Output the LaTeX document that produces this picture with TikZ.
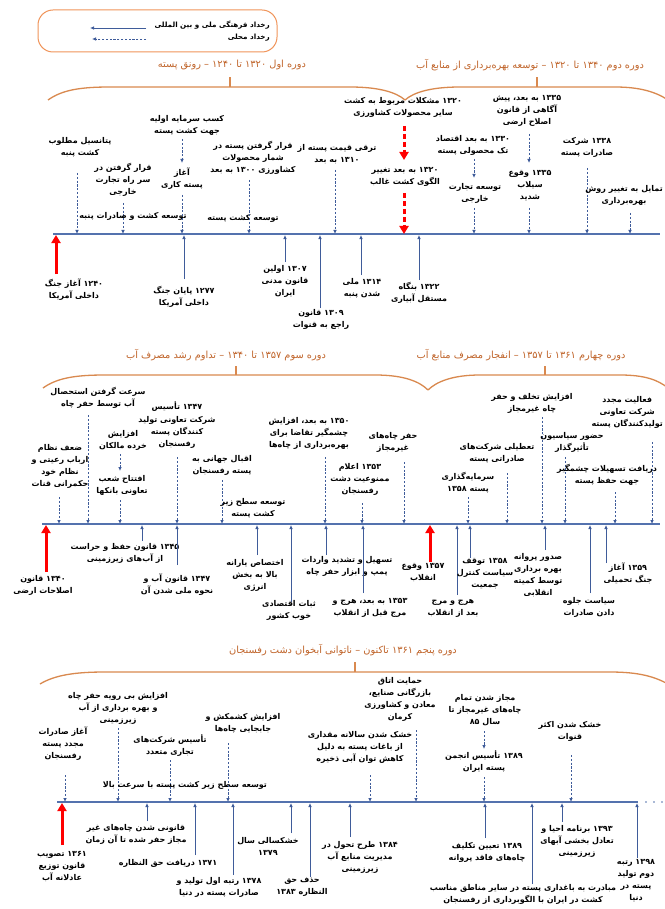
\documentclass[tikz,border=0pt]{standalone}
\usepackage{fontspec}
\usetikzlibrary{arrows.meta}
\TeXXeTstate=1
\newfontfamily\fafont[Script=Arabic, BoldFont={DejaVu Sans Bold}]{DejaVu Sans}
% one right-to-left line, and a number kept left-to-right inside it
\newcommand\fl[1]{\beginR#1\endR}
\newcommand\yr[1]{\beginL#1\endL}
\definecolor{linec}{HTML}{5472AE}
\definecolor{arrc}{HTML}{3F5C9A}
\definecolor{hdrc}{HTML}{C0642A}
\definecolor{bracec}{HTML}{D9894F}
\definecolor{legc}{HTML}{F0945A}
% an event connector: style, name, x, start y, end y
\newcommand\evline[5]{\coordinate (#2s) at (#3,#4);\coordinate (#2e) at (#3,#5);\draw[#1] (#2s) -- (#2e);}
\tikzset{
  lbl/.style={font=\fafont\bfseries\fontsize{8}{12}\selectfont, align=center, inner sep=0pt},
  leg/.style={font=\fafont\bfseries\fontsize{7.2}{11}\selectfont, inner sep=0pt},
  hdr/.style={font=\fafont\fontsize{9.8}{12}\selectfont, text=hdrc, inner sep=0pt},
  tline/.style={draw=linec, line width=2pt},
  natarr/.style={draw=arrc, line width=0.9pt, -{Latex[length=4pt,width=3.6pt]}},
  locarr/.style={natarr, dash pattern=on 2.2pt off 1.6pt},
  redarr/.style={draw=red, line width=3pt, -{Triangle[length=8pt,width=9pt]}},
  reddash/.style={redarr, dash pattern=on 5pt off 3pt},
  brace/.style={draw=bracec, line width=1.3pt},
}
\begin{document}
\begin{tikzpicture}[x=1pt, y={(0pt,-1pt)}]
\fill[white] (0,0) rectangle (664,909);
\useasboundingbox (0,0) rectangle (664,909);

% ---------------- legend ----------------
\draw[draw=legc, line width=1pt, rounded corners=15pt] (38,10) rectangle (277,52);
\node[leg, anchor=east] (lg1) at (270,25) {\fl{رخداد فرهنگی ملی و بین المللی}};
\node[leg, anchor=east] (lg2) at (270,38) {\fl{رخداد محلی}};
\coordinate (lg1a) at (146,28); \coordinate (lg1b) at (90,28);
\coordinate (lg2a) at (146,39); \coordinate (lg2b) at (92,39);
\draw[natarr] (lg1a) -- (lg1b);
\draw[locarr] (lg2a) -- (lg2b);

% ================= period 1 and 2 =================
\node[hdr] (h1a) at (232,65) {\fl{دوره اول \yr{۱۳۲۰} تا \yr{۱۲۴۰} – رونق پسته}};
\node[hdr] (h1b) at (530,65) {\fl{دوره دوم \yr{۱۳۴۰} تا \yr{۱۳۲۰} – توسعه بهره‌برداری از منابع آب}};
\draw[brace] (48,100) .. controls (62,90) and (80,87) .. (110,87) -- (350,87) .. controls (378,87) and (396,92) .. (405,100);
\draw[brace] (405,100) .. controls (414,92) and (432,87) .. (460,87) -- (615,87) .. controls (640,87) and (656,92) .. (668,100);
\draw[brace] (230,87) -- (230,77);
\draw[brace] (537,87) -- (537,77);

\coordinate (tl1s) at (53,234); \coordinate (tl1e) at (660,234);
\draw[tline] (tl1s) -- (tl1e);

% events above the line
\node[lbl] (u1) at (80,147.5) {\fl{پتانسیل مطلوب}\\\fl{کشت پنبه}};
\evline{locarr}{cu1}{77}{173}{234}
\node[lbl] (u2) at (123,180) {\fl{قرار گرفتن در}\\\fl{سر راه تجارت}\\\fl{خارجی}};
\evline{locarr}{cu2}{123}{203}{234}
\node[lbl] (p1) at (133,216) {\fl{توسعه کشت و صادرات پنبه}};
\node[lbl] (u3a) at (187,125) {\fl{کسب سرمایه اولیه}\\\fl{جهت کشت پسته}};
\evline{locarr}{cu3a}{182}{139}{163}
\node[lbl] (u3b) at (182,178.5) {\fl{آغاز}\\\fl{پسته کاری}};
\evline{locarr}{cu3b}{182}{195}{234}
\node[lbl] (p2) at (243,218) {\fl{توسعه کشت پسته}};
\node[lbl] (u4) at (253,158) {\fl{قرار گرفتن پسته در}\\\fl{شمار محصولات}\\\fl{کشاورزی \yr{۱۳۰۰} به بعد}};
\evline{locarr}{cu4}{249}{180}{234}
\node[lbl] (u5) at (337,154) {\fl{ترقی قیمت پسته از}\\\fl{\yr{۱۳۱۰} به بعد}};
\evline{locarr}{cu5}{335}{170}{234}
\node[lbl] (u6a) at (403,107) {\fl{\yr{۱۳۲۰} مشکلات مربوط به کشت}\\\fl{سایر محصولات کشاورزی}};
\evline{reddash}{cu6a}{404}{126}{160}
\node[lbl] (u6b) at (405,177) {\fl{\yr{۱۳۲۰} به بعد تغییر}\\\fl{الگوی کشت غالب}};
\evline{reddash}{cu6b}{404}{193}{234}
\node[lbl] (u7a) at (473,145) {\fl{\yr{۱۳۳۰} به بعد اقتصاد}\\\fl{تک محصولی پسته}};
\evline{locarr}{cu7a}{474}{159}{178}
\node[lbl] (u7b) at (475,193) {\fl{توسعه تجارت}\\\fl{خارجی}};
\evline{locarr}{cu7b}{474}{208}{234}
\node[lbl] (u8a) at (527,111) {\fl{\yr{۱۳۳۵} به بعد، پیش}\\\fl{آگاهی از قانون}\\\fl{اصلاح ارضی}};
\evline{locarr}{cu8a}{529}{134}{163}
\node[lbl] (u8b) at (530,186) {\fl{\yr{۱۳۳۵} وقوع}\\\fl{سیلاب}\\\fl{شدید}};
\evline{locarr}{cu8b}{529}{208}{234}
\node[lbl] (u9) at (587,147.5) {\fl{\yr{۱۳۳۸} شرکت}\\\fl{صادرات پسته}};
\evline{locarr}{cu9}{587}{168}{234}
\node[lbl, anchor=east] (u10) at (663,195) {\fl{تمایل به تغییر روش}\\\fl{بهره‌برداری}};
\evline{locarr}{cu10}{630}{213}{234}

% events below the line
\evline{redarr}{cr1}{56}{274}{235}
\node[lbl] (r1) at (74,290) {\fl{\yr{۱۲۴۰} آغاز جنگ}\\\fl{داخلی آمریکا}};
\evline{natarr}{cl1}{184}{279}{235}
\node[lbl] (l1) at (184,297) {\fl{\yr{۱۲۷۷} پایان جنگ}\\\fl{داخلی آمریکا}};
\evline{natarr}{cl2}{285}{262}{235}
\node[lbl] (l2) at (285,281) {\fl{\yr{۱۳۰۷} اولین}\\\fl{قانون مدنی}\\\fl{ایران}};
\evline{natarr}{cl3}{320}{308}{235}
\node[lbl] (l3) at (321,319) {\fl{\yr{۱۳۰۹} قانون}\\\fl{راجع به قنوات}};
\evline{natarr}{cl4}{361}{275}{235}
\node[lbl] (l4) at (362,288) {\fl{\yr{۱۳۱۴} ملی}\\\fl{شدن پنبه}};
\evline{natarr}{cl5}{419}{280}{235}
\node[lbl] (l5) at (419,293) {\fl{\yr{۱۳۲۲} بنگاه}\\\fl{مستقل آبیاری}};

% ================= period 3 and 4 =================
\node[hdr] (h2a) at (226,355) {\fl{دوره سوم \yr{۱۳۵۷} تا \yr{۱۳۴۰} – تداوم رشد مصرف آب}};
\node[hdr] (h2b) at (521,355) {\fl{دوره چهارم \yr{۱۳۶۱} تا \yr{۱۳۵۷} – انفجار مصرف منابع آب}};
\draw[brace] (43,388) .. controls (57,378) and (75,375) .. (105,375) -- (375,375) .. controls (405,375) and (420,382) .. (428,390);
\draw[brace] (428,390) .. controls (436,382) and (452,375) .. (480,375) -- (620,375) .. controls (645,375) and (658,380) .. (668,388);
\draw[brace] (236,375) -- (236,366);
\draw[brace] (545,375) -- (545,366);

\coordinate (tl2s) at (42,524); \coordinate (tl2e) at (660,524);
\draw[tline] (tl2s) -- (tl2e);

\node[lbl] (v1) at (60,466) {\fl{ضعف نظام}\\\fl{ارباب رعیتی و}\\\fl{نظام خود}\\\fl{حکمرانی قنات}};
\evline{locarr}{cv1}{59}{497}{524}
\node[lbl] (v2) at (98,397.5) {\fl{سرعت گرفتن استحصال}\\\fl{آب توسط حفر چاه}};
\evline{locarr}{cv2}{88}{415}{524}
\node[lbl] (v3a) at (123,440) {\fl{افزایش}\\\fl{خرده مالکان}};
\evline{locarr}{cv3a}{120}{454}{471}
\node[lbl] (v3b) at (122,485) {\fl{افتتاح شعب}\\\fl{تعاونی بانکها}};
\evline{locarr}{cv3b}{120}{500}{524}
\node[lbl] (v4) at (177,425) {\fl{\yr{۱۳۴۷} تأسیس}\\\fl{شرکت تعاونی تولید}\\\fl{کنندگان پسته}\\\fl{رفسنجان}};
\evline{locarr}{cv4}{177}{457}{524}
\node[lbl] (v5) at (222,465) {\fl{اقبال جهانی به}\\\fl{پسته رفسنجان}};
\evline{locarr}{cv5}{222}{480}{524}
\node[lbl] (p3) at (253,508) {\fl{توسعه سطح زیر}\\\fl{کشت پسته}};
\node[lbl] (v6) at (309,433) {\fl{\yr{۱۳۵۰} به بعد، افزایش}\\\fl{چشمگیر تقاضا برای}\\\fl{بهره‌برداری از چاه‌ها}};
\evline{locarr}{cv6}{325}{457}{524}
\node[lbl] (v7) at (360,479) {\fl{\yr{۱۳۵۳} اعلام}\\\fl{ممنوعیت دشت}\\\fl{رفسنجان}};
\evline{locarr}{cv7}{362}{503}{524}
\node[lbl] (v8) at (393,442) {\fl{حفر چاه‌های}\\\fl{غیرمجاز}};
\evline{locarr}{cv8}{404}{462}{524}
\node[lbl] (v9) at (468,483) {\fl{سرمایه‌گذاری}\\\fl{پسته \yr{۱۳۵۸}}};
\evline{locarr}{cv9}{468}{497}{524}
\node[lbl] (v10) at (497,453) {\fl{تعطیلی شرکت‌های}\\\fl{صادراتی پسته}};
\evline{locarr}{cv10}{507}{473}{524}
\node[lbl] (v11) at (532,403) {\fl{افزایش تخلف و حفر}\\\fl{چاه غیرمجاز}};
\evline{locarr}{cv11}{542}{417}{524}
\node[lbl] (v12) at (572,442) {\fl{حضور سیاسیون}\\\fl{تأثیرگذار}};
\evline{locarr}{cv12}{565}{457}{524}
\node[lbl] (v13) at (607,475) {\fl{دریافت تسهیلات چشمگیر}\\\fl{جهت حفظ پسته}};
\evline{locarr}{cv13}{615}{492}{524}
\node[lbl, anchor=east] (v14) at (663,412) {\fl{فعالیت مجدد}\\\fl{شرکت تعاونی}\\\fl{تولیدکنندگان پسته}};
\evline{locarr}{cv14}{652}{442}{524}

\evline{redarr}{cr2}{46}{572}{525}
\node[lbl] (r2) at (43,585.5) {\fl{\yr{۱۳۴۰} قانون}\\\fl{اصلاحات ارضی}};
\evline{natarr}{cm1}{142}{541}{525}
\node[lbl] (m1) at (125,553.5) {\fl{\yr{۱۳۴۵} قانون حفظ و حراست}\\\fl{از آب‌های زیرزمینی}};
\evline{natarr}{cm2}{177}{565}{525}
\node[lbl] (m2) at (177,585) {\fl{\yr{۱۳۴۷} قانون آب و}\\\fl{نحوه ملی شدن آن}};
\evline{natarr}{cm3}{257}{555}{525}
\node[lbl] (m3) at (255,575) {\fl{اختصاص یارانه}\\\fl{بالا به بخش}\\\fl{انرژی}};
\evline{natarr}{cm4}{291}{602}{525}
\node[lbl] (m4) at (289,610) {\fl{ثبات اقتصادی}\\\fl{خوب کشور}};
\evline{natarr}{cm5}{326}{555}{525}
\node[lbl] (m5) at (347,566.5) {\fl{تسهیل و تشدید واردات}\\\fl{پمپ و ابزار حفر چاه}};
\evline{natarr}{cm6}{363}{593}{525}
\node[lbl] (m6) at (370,607.5) {\fl{\yr{۱۳۵۳} به بعد، هرج و}\\\fl{مرج قبل از انقلاب}};
\evline{redarr}{cr3}{430}{562}{525}
\node[lbl] (r3) at (423,572.5) {\fl{\yr{۱۳۵۷} وقوع}\\\fl{انقلاب}};
\evline{natarr}{cm7}{457}{595}{525}
\node[lbl] (m7) at (453,608.5) {\fl{هرج و مرج}\\\fl{بعد از انقلاب}};
\evline{natarr}{cm8}{470}{558}{525}
\node[lbl] (m8) at (485,574) {\fl{\yr{۱۳۵۸} توقف}\\\fl{سیاست کنترل}\\\fl{جمعیت}};
\evline{natarr}{cm9}{545}{550}{525}
\node[lbl] (m9) at (538,575.5) {\fl{صدور پروانه}\\\fl{بهره برداری}\\\fl{توسط کمیته}\\\fl{انقلابی}};
\evline{natarr}{cm10}{590}{593}{525}
\node[lbl] (m10) at (589,607.5) {\fl{سیاست جلوه}\\\fl{دادن صادرات}};
\evline{natarr}{cm11}{606}{563}{525}
\node[lbl] (m11) at (628,573.5) {\fl{\yr{۱۳۵۹} آغاز}\\\fl{جنگ تحمیلی}};

% ================= period 5 =================
\node[hdr] (h3) at (343,650) {\fl{دوره پنجم \yr{۱۳۶۱} تاکنون – ناتوانی آبخوان دشت رفسنجان}};
\draw[brace] (40,684) .. controls (55,675) and (75,672) .. (105,672) -- (610,672) .. controls (640,672) and (655,677) .. (668,684);
\draw[brace] (355,672) -- (355,662);

\coordinate (tl3s) at (57,802); \coordinate (tl3e) at (638,802);
\draw[tline] (tl3s) -- (tl3e);
\foreach \d in {646,654,662} \fill[linec] (\d,802) circle (0.9pt);

\node[lbl] (w1) at (63,743.5) {\fl{آغاز صادرات}\\\fl{مجدد پسته}\\\fl{رفسنجان}};
\evline{locarr}{cw1}{65}{775}{802}
\node[lbl] (w2) at (118,708.5) {\fl{افزایش بی رویه حفر چاه}\\\fl{و بهره برداری از آب}\\\fl{زیرزمینی}};
\evline{locarr}{cw2}{118}{728}{802}
\node[lbl] (w3) at (170,745) {\fl{تأسیس شرکت‌های}\\\fl{تجاری متعدد}};
\evline{locarr}{cw3}{170}{760}{802}
\node[lbl] (p4) at (185,785) {\fl{توسعه سطح زیر کشت پسته با سرعت بالا}};
\evline{locarr}{cw4}{228}{743}{802}
\node[lbl] (w4) at (243,723.5) {\fl{افزایش کشمکش و}\\\fl{جابجایی چاه‌ها}};
\node[lbl] (w5) at (360,747) {\fl{خشک شدن سالانه مقداری}\\\fl{از باغات پسته به دلیل}\\\fl{کاهش توان آبی ذخیره}};
\evline{locarr}{cw5}{370}{775}{802}
\node[lbl] (w6) at (400,699) {\fl{حمایت اتاق}\\\fl{بازرگانی صنایع،}\\\fl{معادن و کشاورزی}\\\fl{کرمان}};
\evline{locarr}{cw6}{416}{730}{802}
\node[lbl] (w7a) at (485,710) {\fl{مجاز شدن تمام}\\\fl{چاه‌های غیرمجاز تا}\\\fl{سال \yr{۸۵}}};
\evline{locarr}{cw7a}{484}{731}{749}
\node[lbl] (w7b) at (484,761.5) {\fl{\yr{۱۳۸۹} تأسیس انجمن}\\\fl{پسته ایران}};
\evline{locarr}{cw7b}{484}{777}{802}
\node[lbl] (w8) at (570,731.5) {\fl{خشک شدن اکثر}\\\fl{قنوات}};
\evline{locarr}{cw8}{571}{755}{802}

\evline{redarr}{cr4}{62}{845}{803}
\node[lbl] (r4) at (62,867) {\fl{\yr{۱۳۶۱} تصویب}\\\fl{قانون توزیع}\\\fl{عادلانه آب}};
\evline{natarr}{cn1}{147}{821}{803}
\node[lbl] (n1) at (136,834) {\fl{قانونی شدن چاه‌های غیر}\\\fl{مجاز حفر شده تا آن زمان}};
\evline{natarr}{cn2}{195}{855}{803}
\node[lbl] (n2) at (168,863) {\fl{\yr{۱۳۷۱} دریافت حق النظاره}};
\evline{natarr}{cn3}{233}{875}{803}
\node[lbl] (n3) at (219,887) {\fl{\yr{۱۳۷۸} رتبه اول تولید و}\\\fl{صادرات پسته در دنیا}};
\evline{natarr}{cn4}{291}{833}{803}
\node[lbl] (n4) at (268,846) {\fl{خشکسالی سال}\\\fl{\yr{۱۳۷۹}}};
\evline{natarr}{cn5}{310}{877}{803}
\node[lbl] (n5) at (302,887) {\fl{حذف حق}\\\fl{النظاره \yr{۱۳۸۳}}};
\evline{natarr}{cn6}{350}{837}{803}
\node[lbl] (n6) at (360,857) {\fl{\yr{۱۳۸۴} طرح تحول در}\\\fl{مدیریت منابع آب}\\\fl{زیرزمینی}};
\evline{natarr}{cn7}{485}{838}{803}
\node[lbl] (n7) at (487,852) {\fl{\yr{۱۳۸۹} تعیین تکلیف}\\\fl{چاه‌های فاقد پروانه}};
\evline{natarr}{cn8}{532}{884}{803}
\node[lbl] (n8) at (523,894) {\fl{مبادرت به باغداری پسته در سایر مناطق مناسب}\\\fl{کشت در ایران با الگوبرداری از رفسنجان}};
\evline{natarr}{cn9}{562}{822}{803}
\node[lbl] (n9) at (577,841) {\fl{\yr{۱۳۹۳} برنامه احیا و}\\\fl{تعادل بخشی آبهای}\\\fl{زیرزمینی}};
\evline{natarr}{cn10}{637}{858}{803}
\node[lbl] (n10) at (636,881) {\fl{\yr{۱۳۹۸} رتبه}\\\fl{دوم تولید}\\\fl{پسته در}\\\fl{دنیا}};
\end{tikzpicture}
\end{document}
